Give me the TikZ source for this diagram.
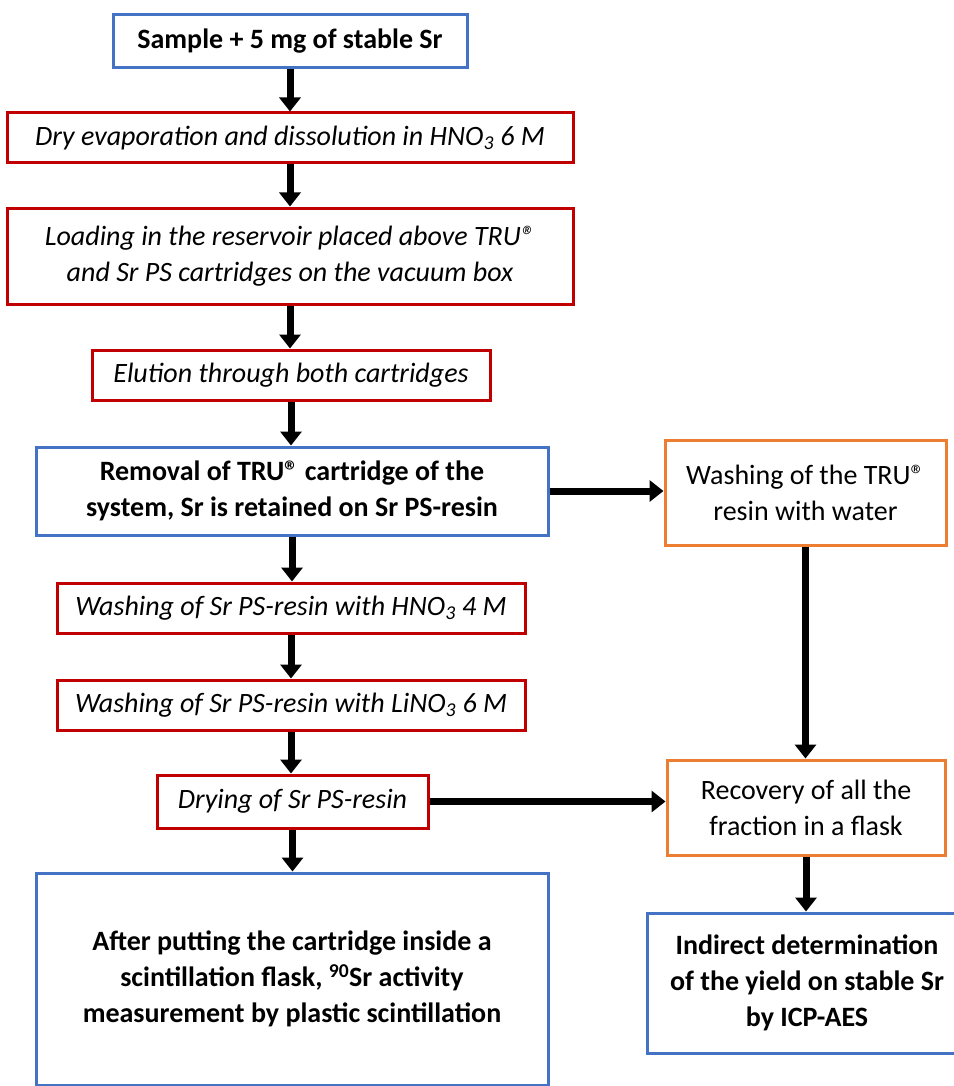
\documentclass[tikz,border=0pt]{standalone}
\usepackage{fontspec}
\setmainfont{Carlito}
\usetikzlibrary{arrows.meta}
\definecolor{boxblue}{RGB}{68,114,196}
\definecolor{boxred}{RGB}{192,0,0}
\definecolor{boxorange}{RGB}{237,125,49}
\begin{document}
\begin{tikzpicture}[x=1pt, y=-1pt,
	box/.style={draw, line width=3pt, inner sep=0pt, align=center, font=\fontsize{28}{36}\selectfont},
	bluebox/.style={box, draw=boxblue, font=\fontsize{28}{36}\selectfont\bfseries},
	redbox/.style={box, draw=boxred, font=\fontsize{28}{36}\selectfont\itshape},
	orangebox/.style={box, draw=boxorange},
	arr/.style={line width=7pt, -{Triangle[length=14pt, width=21pt]}}]
	\useasboundingbox (0,0) rectangle (953,1086);
	% main column
	\node[bluebox, minimum width=354pt, minimum height=53pt] (sample) at (290,41.5) {Sample + 5 mg of stable Sr};
	\node[redbox, minimum width=566pt, minimum height=50pt] (dry) at (290,138) {Dry evaporation and dissolution in HNO\textsubscript{3} 6 M};
	\node[redbox, minimum width=566pt, minimum height=96pt] (load) at (290,256) {Loading in the reservoir placed above TRU®\\and Sr PS cartridges on the vacuum box};
	\node[redbox, minimum width=398pt, minimum height=50pt] (elution) at (291,375) {Elution through both cartridges};
	\node[bluebox, minimum width=512pt, minimum height=88pt] (removal) at (292,491) {Removal of TRU® cartridge of the\\system, Sr is retained on Sr PS-resin};
	\node[redbox, minimum width=468pt, minimum height=50pt] (washhno) at (291,608) {Washing of Sr PS-resin with HNO\textsubscript{3} 4 M};
	\node[redbox, minimum width=468pt, minimum height=50pt] (washli) at (291,705) {Washing of Sr PS-resin with LiNO\textsubscript{3} 6 M};
	\node[redbox, minimum width=271pt, minimum height=53pt] (drying) at (292.5,801.5) {Drying of Sr PS-resin};
	\node[bluebox, minimum width=512pt, minimum height=212pt] (measure) at (292,979) {After putting the cartridge inside a\\scintillation flask, \textsuperscript{90}Sr activity\\measurement by plastic scintillation};
	% side column
	\node[orangebox, minimum width=281pt, minimum height=105pt] (washtru) at (805.5,492.5) {Washing of the TRU®\\resin with water};
	\node[orangebox, minimum width=278pt, minimum height=95pt] (recovery) at (806,807.5) {Recovery of all the\\fraction in a flask};
	\node[bluebox, minimum width=320pt, minimum height=140pt] (yield) at (807,983) {Indirect determination\\of the yield on stable Sr\\by ICP-AES};

	\draw[arr] (sample.south) -- (sample.south |- dry.north);
	\draw[arr] (dry.south) -- (dry.south |- load.north);
	\draw[arr] (load.south) -- (load.south |- elution.north);
	\draw[arr] (elution.south) -- (elution.south |- removal.north);
	\draw[arr] (removal.south) -- (removal.south |- washhno.north);
	\draw[arr] (washhno.south) -- (washhno.south |- washli.north);
	\draw[arr] (washli.south) -- (washli.south |- drying.north);
	\draw[arr] (drying.south) -- (drying.south |- measure.north);
	\draw[arr] (removal.east) -- (removal.east -| washtru.west);
	\draw[arr] (drying.east) -- (drying.east -| recovery.west);
	\draw[arr] (washtru.south) -- (washtru.south |- recovery.north);
	\draw[arr] (recovery.south) -- (recovery.south |- yield.north);
\end{tikzpicture}
\end{document}
